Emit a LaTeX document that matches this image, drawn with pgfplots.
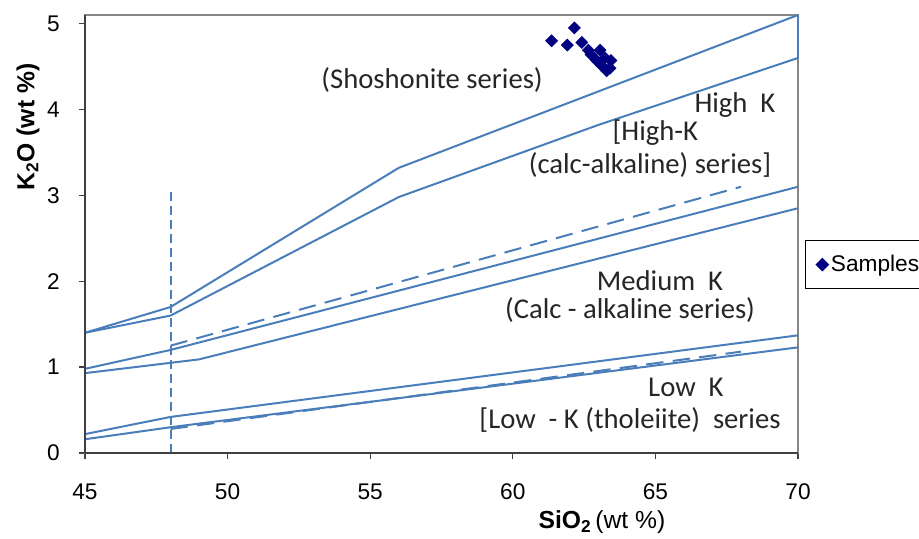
\documentclass[border=0pt]{standalone}
\usepackage{pgfplots}
\pgfplotsset{compat=1.18}
\usepackage{fontspec}
\setmainfont{Liberation Sans}
\newfontfamily\calibri{Carlito}
\definecolor{lblue}{RGB}{74,126,187}
\definecolor{navy}{RGB}{0,0,128}
\definecolor{frame}{RGB}{134,134,134}
\begin{document}
\begin{tikzpicture}
\begin{axis}[
  scale only axis, width=534.75pt, height=328.5pt,
  at={(63.75pt,63.75pt)}, anchor=south west,
  xmin=45, xmax=70, ymin=0, ymax=5.1,
  xtick={45,50,...,70}, ytick={0,1,2,3,4,5},
  xtick pos=bottom, ytick pos=left,
  tick align=outside, major tick length=4.5pt,
  axis line style={draw=frame, line width=1.3pt},
  tick style={draw=black!75, line width=1pt},
  /pgf/number format/assume math mode=true,
  ticklabel style={font=\fontsize{17}{19}\selectfont},
  yticklabel style={xshift=-11pt},
  xticklabel style={yshift=-15pt},
  xlabel={\textbf{SiO\textsubscript{2}}\,(wt \%)},
  ylabel={\textbf{K\textsubscript{2}O (wt \%)}},
  label style={font=\fontsize{18.5}{20}\selectfont},
  xlabel style={at={(axis description cs:0.725,-0.1575)}, anchor=center},
  ylabel style={at={(axis description cs:-0.08,0.744)}, anchor=center},
  legend style={at={(axis description cs:1.0098,0.486)}, anchor=north west,
    draw=black, line width=0.9pt, font=\fontsize{17}{19}\selectfont,
    inner xsep=8pt, inner ysep=9pt},
  legend cell align=left,
  clip=false,
]
\addplot[lblue, line width=1.5pt, forget plot] coordinates {(45,1.40) (48,1.70) (56,3.32) (70,5.10)};
\addplot[lblue, line width=1.5pt, forget plot] coordinates {(45,1.40) (48,1.60) (56,2.98) (63,3.82) (70,4.60)};
\addplot[lblue, line width=1.5pt, forget plot] coordinates {(70,4.60) (70,5.10)};
\addplot[lblue, line width=1.5pt, dash pattern=on 13pt off 7pt, forget plot] coordinates {(48,1.25) (68,3.10)};
\addplot[lblue, line width=1.5pt, forget plot] coordinates {(45,0.98) (48,1.20) (70,3.10)};
\addplot[lblue, line width=1.5pt, forget plot] coordinates {(45,0.93) (49,1.09) (70,2.85)};
\addplot[lblue, line width=1.5pt, forget plot] coordinates {(45,0.22) (48,0.42) (70,1.37)};
\addplot[lblue, line width=1.5pt, forget plot] coordinates {(45,0.16) (48,0.30) (70,1.23)};
\addplot[lblue, line width=1.5pt, dash pattern=on 13pt off 7pt, forget plot] coordinates {(48,0.28) (68,1.18)};
\addplot[lblue, line width=1.5pt, dash pattern=on 6.5pt off 4pt, forget plot] coordinates {(48,0) (48,3.05)};
\addplot[only marks, mark=square*, mark size=3.2pt, mark options={rotate=45, draw=navy, fill=navy}] coordinates {
(62.16,4.95) (61.36,4.80) (61.91,4.75) (62.42,4.78) (62.65,4.69) (62.74,4.64)
(63.06,4.69) (62.94,4.57) (63.23,4.60) (63.44,4.57) (63.12,4.51) (63.41,4.48) (63.29,4.45)};
\addlegendentry{Samples\hspace{16pt}}
\draw[black!75, line width=1.3pt] (axis description cs:0,0) -- (axis description cs:0,1);
\draw[black!75, line width=1.3pt] (axis description cs:0,0) -- (axis description cs:1,0);
\begin{scope}[font=\calibri\fontsize{21.5}{24}\selectfont, text=black!85]
\node at (axis cs:57.17,4.34) {(Shoshonite series)};
\node at (axis cs:67.79,4.05) {High\ \ K};
\node at (axis cs:65.0,3.73) {[High-K};
\node at (axis cs:64.81,3.35) {(calc-alkaline) series]};
\node at (axis cs:65.16,2.01) {Medium\ \ K};
\node at (axis cs:64.11,1.66) {(Calc - alkaline series)};
\node at (axis cs:66.07,0.76) {Low\ \ K};
\node at (axis cs:64.11,0.38) {[Low\ \ - K (tholeiite)\ \ series};
\end{scope}
\end{axis}
\pgfresetboundingbox
\useasboundingbox (0,0) rectangle (689.25pt,403.5pt);
\end{tikzpicture}
\end{document}
